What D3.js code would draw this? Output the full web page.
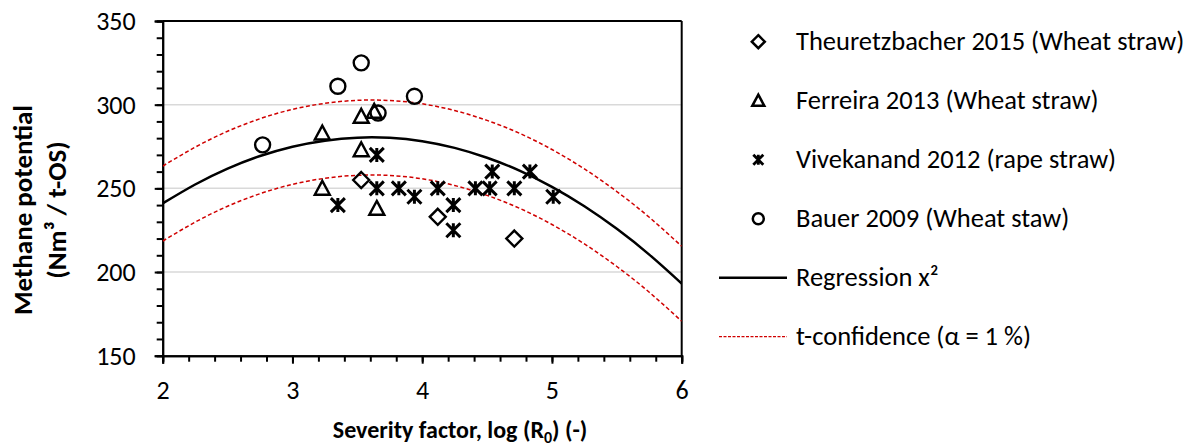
<!DOCTYPE html>
<html><head><meta charset="utf-8">
<script src="https://cdn.jsdelivr.net/npm/d3@7"></script>
<style>
body{margin:0;background:#fff}
text{font-family: Carlito, Lato, "Open Sans", sans-serif; fill:#000}
</style>
</head><body>
<svg id="c" width="1191" height="446"></svg>
<script>
// ---- data ----
const theuretzbacherX = [3.53, 4.12, 4.71];
const theuretzbacherY = [255, 233, 220];
const ferreiraX = [3.23, 3.53, 3.53, 3.23, 3.63, 3.65];
const ferreiraY = [283, 293, 273, 250, 296, 238];
const vivekanandX = [3.65, 3.35, 3.65, 3.82, 3.94, 4.12, 4.24, 4.24, 4.41, 4.52, 4.54, 4.71, 4.83, 5.01];
const vivekanandY = [270, 240, 250, 250, 245, 250, 240, 225, 250, 250, 260, 250, 260, 245];
const bauerX = [2.77, 3.35, 3.53, 3.94, 3.66];
const bauerY = [276, 311, 325, 305, 295];
const curveX = [2, 2.25, 2.5, 2.75, 3, 3.25, 3.5, 3.75, 4, 4.25, 4.5, 4.75, 5, 5.25, 5.5, 5.75, 6];
const regressionY = [241.0, 252.3, 261.8, 269.3, 274.9, 278.5, 280.3, 280.2, 278.2, 274.2, 268.3, 260.6, 250.9, 239.3, 225.8, 210.4, 193.1];
const upperY = [263.3, 274.6, 284.1, 291.6, 297.2, 300.8, 302.6, 302.5, 300.5, 296.5, 290.6, 282.9, 273.2, 261.6, 248.1, 232.7, 215.4];
const lowerY = [218.5, 229.8, 239.3, 246.8, 252.4, 256.0, 257.8, 257.7, 255.7, 251.7, 245.8, 238.1, 228.4, 216.8, 203.3, 187.9, 170.6];
const xTicks = [2, 3, 4, 5, 6];
const yTicks = [150, 200, 250, 300, 350];
const legendLabels = ["Theuretzbacher 2015 (Wheat straw)", "Ferreira 2013 (Wheat straw)", "Vivekanand 2012 (rape straw)", "Bauer 2009 (Wheat staw)", "Regression x²", "t-confidence (α = 1 %)"];

// ---- layout ----
const svg = d3.select("#c");
const L = 162.7, T = 21, R = 681.7, B = 355.7;
const x = d3.scaleLinear().domain([2, 6]).range([L, R]);
const y = d3.scaleLinear().domain([150, 350]).range([B, T]);

// gridlines
svg.append("g").selectAll("line").data(yTicks.filter(v => v > 150 && v < 350)).join("line")
  .attr("x1", L).attr("x2", R).attr("y1", d => y(d)).attr("y2", d => y(d))
  .attr("stroke", "#d9d9d9").attr("stroke-width", 1.5);

// frame top/right
svg.append("line").attr("x1", L).attr("x2", R).attr("y1", T).attr("y2", T).attr("stroke", "#000").attr("stroke-width", 2);
svg.append("line").attr("x1", R).attr("x2", R).attr("y1", T).attr("y2", B).attr("stroke", "#000").attr("stroke-width", 2);

// axes
const xMinor = d3.range(2, 6.001, 0.2);
const yMinor = d3.range(150, 350.001, 10);
const gx = svg.append("g").attr("transform", `translate(0,${B})`);
gx.call(d3.axisBottom(x).tickValues(xMinor).tickSize(6).tickFormat(""));
gx.append("g").call(d3.axisBottom(x).tickValues(xTicks).tickSize(8).tickFormat(d3.format("d")).tickPadding(17));
gx.selectAll("path,line").attr("stroke", "#000").attr("stroke-width", 2);
gx.selectAll("text").style("font-size", "26px").attr("font-family", null);
const gy = svg.append("g").attr("transform", `translate(${L},0)`);
gy.call(d3.axisLeft(y).tickValues(yMinor).tickSize(6).tickFormat(""));
gy.append("g").call(d3.axisLeft(y).tickValues(yTicks).tickSize(8).tickFormat(d3.format("d")).tickPadding(19));
gy.selectAll("path,line").attr("stroke", "#000").attr("stroke-width", 2);
gy.selectAll("text").style("font-size", "26px").attr("font-family", null);
svg.selectAll(".domain").attr("stroke-width", 2);

// curves
const line = d3.line().x(d => x(d[0])).y(d => y(d[1])).curve(d3.curveNatural);
svg.append("clipPath").attr("id", "pc").append("rect").attr("x", L).attr("y", T).attr("width", R - L).attr("height", B - T);
const cg = svg.append("g").attr("clip-path", "url(#pc)");
cg.append("path").datum(curveX.map((v, i) => [v, upperY[i]])).attr("d", line)
  .attr("fill", "none").attr("stroke", "#d00000").attr("stroke-width", 1.5).attr("stroke-dasharray", "4,2.5");
cg.append("path").datum(curveX.map((v, i) => [v, lowerY[i]])).attr("d", line)
  .attr("fill", "none").attr("stroke", "#d00000").attr("stroke-width", 1.5).attr("stroke-dasharray", "4,2.5");
cg.append("path").datum(curveX.map((v, i) => [v, regressionY[i]])).attr("d", line)
  .attr("fill", "none").attr("stroke", "#000").attr("stroke-width", 2.5);

// marker shapes
function diamond(s) { return `M0,${-s}L${s},0L0,${s}L${-s},0Z`; }
function triangle(s) { return `M0,${-s}L${s},${s*0.85}L${-s},${s*0.85}Z`; }
function star(s) { return `M${-s},${-s}L${s},${s}M${-s},${s}L${s},${-s}M0,${-s}L0,${s}`; }
function circle(s) { return `M${s},0A${s},${s} 0 1,1 ${-s},0A${s},${s} 0 1,1 ${s},0Z`; }

function drawSeries(xs, ys, pathFn, size, sw) {
  svg.append("g").selectAll("path").data(xs.map((v, i) => [v, ys[i]])).join("path")
    .attr("transform", d => `translate(${x(d[0])},${y(d[1])})`)
    .attr("d", pathFn(size)).attr("fill", "none").attr("stroke", "#000").attr("stroke-width", sw);
}
drawSeries(theuretzbacherX, theuretzbacherY, diamond, 8, 2.4);
drawSeries(ferreiraX, ferreiraY, triangle, 7.5, 2.4);
drawSeries(vivekanandX, vivekanandY, star, 7, 3);
drawSeries(bauerX, bauerY, circle, 7.5, 2.4);

// legend
const legY = [41.7, 100.7, 159.7, 218.7, 277.7, 336.7];
const legMarks = [[diamond, 6.5, 2.5], [triangle, 6, 2.5], [star, 5, 2.8], [circle, 5.5, 2.5]];
const lg = svg.append("g");
legMarks.forEach((m, i) => {
  lg.append("path").attr("transform", `translate(758.3,${legY[i]})`).attr("d", m[0](m[1]))
    .attr("fill", "none").attr("stroke", "#000").attr("stroke-width", m[2]);
});
lg.append("line").attr("x1", 719).attr("x2", 787).attr("y1", legY[4]).attr("y2", legY[4]).attr("stroke", "#000").attr("stroke-width", 2.5);
lg.append("line").attr("x1", 719).attr("x2", 787).attr("y1", legY[5]).attr("y2", legY[5]).attr("stroke", "#d00000").attr("stroke-width", 1.2).attr("stroke-dasharray", "3,1.5");
lg.selectAll("text").data(legendLabels).join("text")
  .attr("x", 796).attr("y", (d, i) => legY[i]).attr("dy", "0.33em").style("font-size", "26.5px").text(d => d);

// axis titles
svg.append("text").attr("x", 460).attr("y", 438).attr("text-anchor", "middle")
  .style("font-size", "24px").style("font-weight", "bold")
  .html('Severity factor, log (R<tspan dy="5" style="font-size:16px">0</tspan><tspan dy="-5">) (-)</tspan>');
const yt = svg.append("g").attr("transform", "translate(0,210) rotate(-90)");
yt.append("text").attr("x", 0).attr("y", 23).attr("dy", "0.35em").attr("text-anchor", "middle")
  .style("font-size", "27px").style("font-weight", "bold").text("Methane potential");
yt.append("text").attr("x", 0).attr("y", 57).attr("dy", "0.35em").attr("text-anchor", "middle")
  .style("font-size", "27px").style("font-weight", "bold").text("(Nm³ / t-OS)");
</script>
</body></html>
